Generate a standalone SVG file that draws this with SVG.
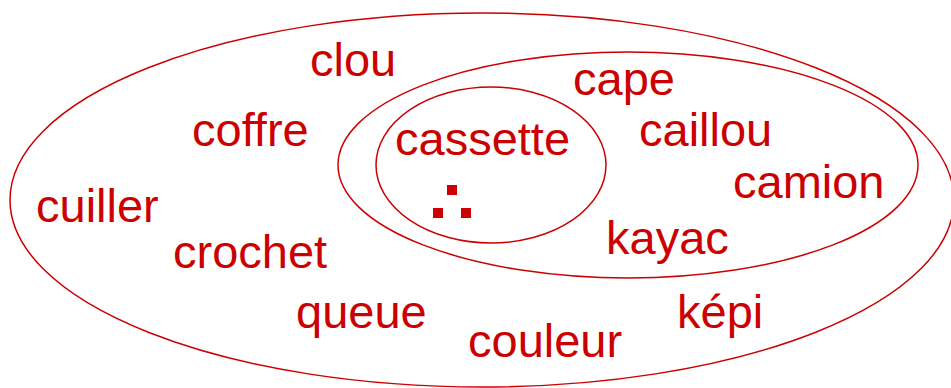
<svg xmlns="http://www.w3.org/2000/svg" width="951" height="388" viewBox="0 0 951 388">
<style>
.e{fill:none;stroke:#cc0000;stroke-width:1.5}
text{font-family:"Liberation Sans",Arial,sans-serif;font-size:47px;fill:#cc0000}
.d{fill:#cc0000}
</style>
<rect width="951" height="388" fill="#fff"/>
<g id="outer"><ellipse class="e" cx="482" cy="200" rx="472" ry="187"/></g>
<g id="middle"><ellipse class="e" cx="628" cy="165" rx="290" ry="113"/></g>
<g id="inner"><ellipse class="e" cx="491" cy="165" rx="115" ry="78"/></g>
<g id="words">
<text x="310" y="76">clou</text>
<text x="192" y="146">coffre</text>
<text x="36" y="222">cuiller</text>
<text x="173" y="268">crochet</text>
<text x="296" y="328">queue</text>
<text x="468" y="357">couleur</text>
<text x="395" y="155">cassette</text>
<text x="573" y="95">cape</text>
<text x="639" y="146">caillou</text>
<text x="733" y="198">camion</text>
<text x="606" y="254">kayac</text>
<text x="677" y="328">képi</text>
</g>
<g id="dots">
<rect class="d" x="447" y="185" width="10" height="10"/>
<rect class="d" x="433" y="208" width="10" height="10"/>
<rect class="d" x="461" y="208" width="10" height="10"/>
</g>
</svg>
